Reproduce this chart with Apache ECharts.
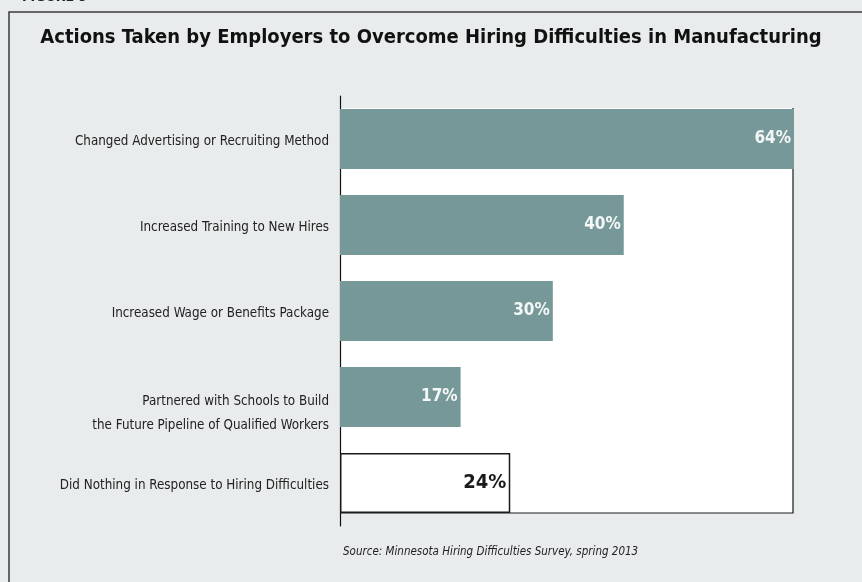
<!DOCTYPE html>
<html>
<head>
<meta charset="utf-8">
<script src="https://cdn.jsdelivr.net/npm/echarts@6/dist/echarts.min.js"></script>
<style>
  html, body { margin: 0; padding: 0; background: #e9eced; }
  #chart { width: 862px; height: 582px; }
</style>
</head>
<body>
<div id="chart"></div>
<script>
// Survey responses: share of employers taking each action
const categories = [
  'Changed Advertising or Recruiting Method',
  'Increased Training to New Hires',
  'Increased Wage or Benefits Package',
  'Partnered with Schools to Build\nthe Future Pipeline of Qualified Workers',
  'Did Nothing in Response to Hiring Difficulties'
];
const values = [64, 40, 30, 17, 24];
// The last response is drawn as an outlined bar
const outlinedIndex = 4;

const titleText = 'Actions Taken by Employers to Overcome Hiring Difficulties in Manufacturing';
const sourceText = 'Source: Minnesota Hiring Difficulties Survey, spring 2013';
const figureText = 'FIGURE 9';

const FONT = '"DejaVu Sans Condensed", "Liberation Sans Narrow", sans-serif';
const BAR = '#779899';

const chart = echarts.init(document.getElementById('chart'), null, { renderer: 'canvas' });

const barData = values.map((v, i) => {
  if (i !== outlinedIndex) return v;
  return {
    value: v,
    itemStyle: { color: '#ffffff', borderColor: '#1a1a1a', borderWidth: 1.5 },
    label: { color: '#1a1a1a', fontSize: 20, fontWeight: 'bold', distance: 4 }
  };
});

// Category labels sit slightly below the bar centre; a two-line label
// hangs from its first line, which is level with the bar.
function categoryLabel(name) {
  const lines = name.split('\n');
  if (lines.length > 1) {
    return '{gapTall| }\n' + lines.map(l => '{txt|' + l + '}').join('\n');
  }
  return '{gap| }\n{one|' + name + '}';
}

const option = {
  backgroundColor: '#e9eced',
  animation: false,
  title: {
    text: titleText,
    left: 'center',
    top: 23,
    textStyle: { fontFamily: FONT, fontSize: 20, fontWeight: 'bold', color: '#111' }
  },
  grid: { left: 340, top: 96, width: 454, height: 430, containLabel: false },
  xAxis: {
    type: 'value',
    min: 0,
    max: 64,
    show: false
  },
  yAxis: {
    type: 'category',
    data: categories,
    inverse: true,
    axisLine: { show: true, lineStyle: { color: '#111', width: 1.2 } },
    axisTick: { show: false },
    axisLabel: {
      margin: 11,
      fontFamily: FONT,
      fontSize: 13.3,
      color: '#222',
      align: 'right',
      formatter: categoryLabel,
      rich: {
        gap: { fontSize: 4, lineHeight: 6 },
        gapTall: { fontSize: 4, lineHeight: 34 },
        one: { fontFamily: FONT, fontSize: 13.3, color: '#222', lineHeight: 16 },
        txt: { fontFamily: FONT, fontSize: 13.3, color: '#222', lineHeight: 24 }
      }
    }
  },
  series: [{
    type: 'bar',
    data: barData,
    barWidth: 60,
    itemStyle: { color: BAR },
    label: {
      show: true,
      position: 'insideRight',
      distance: 3,
      formatter: '{c}%',
      fontFamily: FONT,
      fontWeight: 'bold',
      fontSize: 17,
      color: '#f4f7f7'
    },
    z: 3
  }]
};

chart.setOption(option);

// White plot panel, outline frame and source note, placed from the axis scales
const x0 = chart.convertToPixel({ xAxisIndex: 0 }, 0);
const xMax = chart.convertToPixel({ xAxisIndex: 0 }, 64);
const yFirst = chart.convertToPixel({ yAxisIndex: 0 }, 0);
const yLast = chart.convertToPixel({ yAxisIndex: 0 }, categories.length - 1);
const panelTop = yFirst - 31;
const panelBottom = yLast + 30;

chart.setOption({
  graphic: [
    {
      type: 'rect', z: -10, silent: true,
      shape: { x: x0, y: panelTop, width: xMax - 1 - x0, height: panelBottom - panelTop },
      style: { fill: '#ffffff' }
    },
    {
      type: 'polyline', z: 1, silent: true,
      shape: { points: [[x0, panelBottom], [xMax - 1, panelBottom], [xMax - 1, panelTop]] },
      style: { stroke: '#1a1a1a', lineWidth: 1.2, fill: null }
    },
    {
      type: 'polyline', z: 1, silent: true,
      shape: { points: [[862, 12], [9, 12], [9, 582]] },
      style: { stroke: '#3a3a3a', lineWidth: 1.5, fill: null }
    },
    {
      type: 'text', z: 1, silent: true,
      left: 22, top: -10,
      style: { text: figureText, font: 'bold 14px ' + FONT, fill: '#222' }
    },
    {
      type: 'text', z: 1, silent: true,
      left: x0 + 3, top: panelBottom + 33,
      style: { text: sourceText, font: 'italic 11.5px ' + FONT, fill: '#222' }
    }
  ]
});
</script>
</body>
</html>
